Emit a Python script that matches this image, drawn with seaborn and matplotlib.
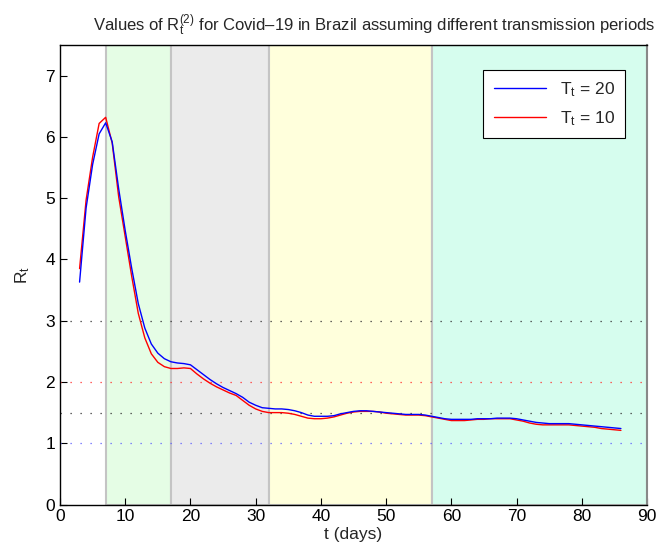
import matplotlib
matplotlib.use("Agg")
import matplotlib.pyplot as plt
import seaborn as sns
import numpy as np
import pandas as pd

days = list(range(3, 87))
rt_T20 = [3.63, 4.84, 5.55, 6.05, 6.23, 5.92, 5.15, 4.47, 3.85, 3.28,
          2.88, 2.62, 2.47, 2.38, 2.33, 2.31, 2.30, 2.28, 2.20, 2.12,
          2.04, 1.97, 1.91, 1.86, 1.81, 1.75, 1.67, 1.62, 1.58, 1.57,
          1.56, 1.56, 1.55, 1.53, 1.50, 1.46, 1.44, 1.44, 1.44, 1.45,
          1.48, 1.50, 1.52, 1.53, 1.53, 1.52, 1.51, 1.50, 1.49, 1.48,
          1.47, 1.47, 1.47, 1.46, 1.44, 1.42, 1.40, 1.39, 1.39, 1.39,
          1.39, 1.40, 1.40, 1.40, 1.41, 1.41, 1.41, 1.40, 1.38, 1.36,
          1.34, 1.33, 1.32, 1.32, 1.32, 1.32, 1.31, 1.30, 1.29, 1.28,
          1.27, 1.26, 1.25, 1.24]
rt_T10 = [3.85, 4.97, 5.67, 6.22, 6.32, 5.90, 5.02, 4.37, 3.72, 3.12,
          2.72, 2.46, 2.32, 2.25, 2.22, 2.22, 2.23, 2.22, 2.13, 2.05,
          1.98, 1.92, 1.87, 1.82, 1.78, 1.70, 1.62, 1.56, 1.52, 1.50,
          1.50, 1.50, 1.49, 1.47, 1.44, 1.41, 1.40, 1.40, 1.41, 1.43,
          1.46, 1.49, 1.51, 1.52, 1.52, 1.52, 1.51, 1.49, 1.48, 1.47,
          1.46, 1.46, 1.46, 1.45, 1.43, 1.41, 1.39, 1.37, 1.37, 1.37,
          1.38, 1.39, 1.39, 1.40, 1.40, 1.40, 1.40, 1.38, 1.36, 1.33,
          1.31, 1.30, 1.30, 1.30, 1.30, 1.30, 1.29, 1.28, 1.27, 1.26,
          1.24, 1.23, 1.22, 1.21]

period_bounds = [7, 17, 32, 57, 90]
period_colors = ["#e5fde5", "#ebebeb", "#ffffdc", "#d6fdee"]
ref_levels = [3, 2, 1.5, 1]
ref_colors = ["#333333", "#ff3030", "#333333", "#6060ff"]
xticks = list(range(0, 91, 10))
yticks = list(range(0, 8))

sns.set_style("ticks")
plt.rcParams['font.family'] = ['Liberation Sans', 'DejaVu Sans']
plt.rcParams['mathtext.fontset'] = 'custom'
plt.rcParams['mathtext.rm'] = 'Liberation Sans'
plt.rcParams['mathtext.it'] = 'Liberation Sans'

fig = plt.figure(figsize=(6.58, 5.53), dpi=100)
ax = fig.add_axes([0.0912, 0.0877, 0.8921, 0.8309])

for i in range(len(period_colors)):
    ax.axvspan(period_bounds[i], period_bounds[i + 1], facecolor=period_colors[i],
               edgecolor="#c4c4c4", linewidth=1.5, zorder=0)

for lvl, c in zip(ref_levels, ref_colors):
    ax.axhline(lvl, color=c, linestyle=(0, (1, 7)), linewidth=0.9, zorder=1)

df = pd.DataFrame({"t": days, "T20": rt_T20, "T10": rt_T10})
sns.lineplot(data=df, x="t", y="T20", color="#0000ff", linewidth=1.0, ax=ax,
             label=r"$\mathregular{T_t}$ = 20", zorder=3)
sns.lineplot(data=df, x="t", y="T10", color="#ff0000", linewidth=1.0, ax=ax,
             label=r"$\mathregular{T_t}$ = 10", zorder=2)

ax.set_xlim(0, 90)
ax.set_ylim(0, 7.5)
ax.set_xticks(xticks)
ax.set_yticks(yticks)
ax.tick_params(direction="in", length=5, width=0.8, labelsize=12.5, colors="black")
ax.set_xlabel("t (days)", fontsize=12.5, labelpad=2)
ax.set_ylabel(r"$\mathregular{R_t}$", fontsize=12.5, labelpad=10)
ax.set_title(r"Values of $\mathregular{R_t^{(2)}}$ for Covid–19 in Brazil assuming different transmission periods",
             fontsize=12, pad=10, x=0.535)
for s in ["left", "bottom", "top"]:
    ax.spines[s].set_color("black")
    ax.spines[s].set_linewidth(1.0)
ax.spines["right"].set_color("#888888")
ax.spines["right"].set_linewidth(1.5)

leg = ax.legend(loc="upper right", bbox_to_anchor=(0.9625, 0.946), borderaxespad=0,
                fontsize=12.5, frameon=True, fancybox=False, edgecolor="black",
                framealpha=1, handlelength=3.0, borderpad=0.6, labelspacing=0.6,
                handletextpad=0.8)
leg.get_frame().set_linewidth(0.8)

fig.savefig("out.png", dpi=100)
